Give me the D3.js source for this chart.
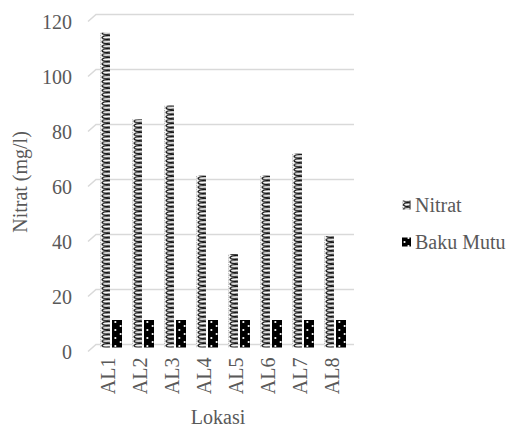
<!DOCTYPE html>
<html>
<head>
  <meta charset="utf-8">
  <script src="https://d3js.org/d3.v7.min.js"></script>
  <title>Nitrat</title>
  <style>
    body { margin: 0; background: #fff; }
  </style>
</head>
<body>
<div id="chart"></div>
<script>
  // data
  const lokasi = ["AL1", "AL2", "AL3", "AL4", "AL5", "AL6", "AL7", "AL8"];
  const nitrat = [114.5, 83, 88, 62.5, 34, 62.5, 70.5, 40.5];
  const bakuMutu = [10, 10, 10, 10, 10, 10, 10, 10];
  const seriesNames = ["Nitrat", "Baku Mutu"];
  const yTicks = [0, 20, 40, 60, 80, 100, 120];

  const W = 515, H = 432;
  const depth = 3; // half depth of the fake 3d floor
  const FONT = "Liberation Serif";
  const GREY = "#595959";

  const svg = d3.select("#chart").append("svg")
    .attr("width", W).attr("height", H);

  const x0 = d3.scaleBand().domain(lokasi).range([94, 350])
    .paddingInner(0.25).paddingOuter(0.125);
  const x1 = d3.scaleBand().domain(seriesNames).range([0, x0.bandwidth()]);
  const y = d3.scaleLinear().domain([0, 120]).range([347.5, 17.5]);

  // patterns
  const defs = svg.append("defs");
  const step = x0.step();
  const bw = x1.bandwidth();

  function nitratPattern(id, ox, w) {
    const h = 4.4;
    const p = defs.append("pattern").attr("id", id)
      .attr("patternUnits", "userSpaceOnUse")
      .attr("x", ox).attr("y", 0).attr("width", step).attr("height", h);
    p.append("rect").attr("width", w).attr("height", h).attr("fill", "#fff");
    p.append("path")
      .attr("d", `M${w - 0.8},0.6 C0.6,0.2 -0.4,3.4 ${w * 0.5},3.9 L${w - 0.8},3.4 L${w - 0.8},1.6`)
      .attr("fill", "none").attr("stroke", "#111").attr("stroke-width", 1.25);
    p.append("line").attr("x1", 0.6).attr("x2", 0.6).attr("y1", 0).attr("y2", h)
      .attr("stroke", "#aaa").attr("stroke-width", 1).attr("stroke-dasharray", "1,1.2");
    p.append("line").attr("x1", w - 0.5).attr("x2", w - 0.5).attr("y1", 0).attr("y2", h)
      .attr("stroke", "#888").attr("stroke-width", 1);
  }
  function bakuPattern(id, ox, w) {
    const p = defs.append("pattern").attr("id", id)
      .attr("patternUnits", "userSpaceOnUse")
      .attr("x", ox).attr("y", 0).attr("width", step).attr("height", 8);
    p.append("rect").attr("width", w).attr("height", 8).attr("fill", "#000");
    p.append("circle").attr("cx", w * 0.28).attr("cy", 2).attr("r", 1.1).attr("fill", "#fff");
    p.append("circle").attr("cx", w * 0.72).attr("cy", 6).attr("r", 1.1).attr("fill", "#fff");
  }
  nitratPattern("pNitrat", x0(lokasi[0]) + x1("Nitrat"), bw);
  bakuPattern("pBaku", x0(lokasi[0]) + x1("Baku Mutu"), bw);

  // gridlines (back wall with slanted floor edge)
  const grid = svg.append("g");
  yTicks.forEach(v => {
    grid.append("path")
      .attr("d", `M88,${y(v) + 4}L96,${y(v) - depth}L354,${y(v) - depth}`)
      .attr("fill", "none").attr("stroke", "#d9d9d9").attr("stroke-width", 1.5);
  });

  // y tick labels
  svg.append("g").selectAll("text").data(yTicks).join("text")
    .attr("x", 72).attr("y", d => y(d) + 4).attr("dy", "0.35em")
    .attr("text-anchor", "end")
    .style("font-family", FONT).style("font-size", "20px").attr("fill", GREY)
    .text(d => d);

  // bars
  const data = lokasi.map((l, i) => ({ l, vals: [nitrat[i], bakuMutu[i]] }));
  const fills = ["url(#pNitrat)", "url(#pBaku)"];
  svg.append("g").selectAll("g").data(data).join("g")
    .attr("transform", d => `translate(${x0(d.l)},0)`)
    .selectAll("rect").data(d => d.vals.map((v, k) => ({ k, v })))
    .join("rect")
    .attr("x", d => x1(seriesNames[d.k]))
    .attr("y", d => y(d.v))
    .attr("width", bw)
    .attr("height", d => y(0) - y(d.v))
    .attr("fill", d => fills[d.k]);

  // x axis
  const xAxis = svg.append("g")
    .attr("transform", `translate(-2,${y(0) + 6})`)
    .call(d3.axisBottom(x0).tickSize(0));
  xAxis.select(".domain").remove();
  xAxis.selectAll("text")
    .attr("transform", "rotate(-90)")
    .attr("x", -4).attr("y", 0).attr("dy", "0.35em")
    .style("text-anchor", "end")
    .style("font-size", "20px")
    .style("font-family", FONT)
    .attr("fill", GREY);

  // axis titles
  svg.append("text")
    .attr("transform", "translate(27,182) rotate(-90)")
    .attr("text-anchor", "middle")
    .style("font-family", FONT).style("font-size", "20px").attr("fill", GREY)
    .text("Nitrat (mg/l)");
  svg.append("text")
    .attr("x", 218).attr("y", 424)
    .attr("text-anchor", "middle")
    .style("font-family", FONT).style("font-size", "20px").attr("fill", GREY)
    .text("Lokasi");

  // legend
  const legY = [205, 242];
  nitratPattern("pNitratLeg", 402, 9);
  bakuPattern("pBakuLeg", 402, 9);
  const leg = svg.append("g");
  seriesNames.forEach((s, k) => {
    leg.append("rect").attr("x", 402).attr("y", legY[k] - 4.5)
      .attr("width", 9).attr("height", 9)
      .attr("fill", k === 0 ? "url(#pNitratLeg)" : "url(#pBakuLeg)");
    leg.append("text").attr("x", 415).attr("y", legY[k]).attr("dy", "0.35em")
      .style("font-family", FONT).style("font-size", "20px").attr("fill", GREY)
      .text(s);
  });
</script>
</body>
</html>
